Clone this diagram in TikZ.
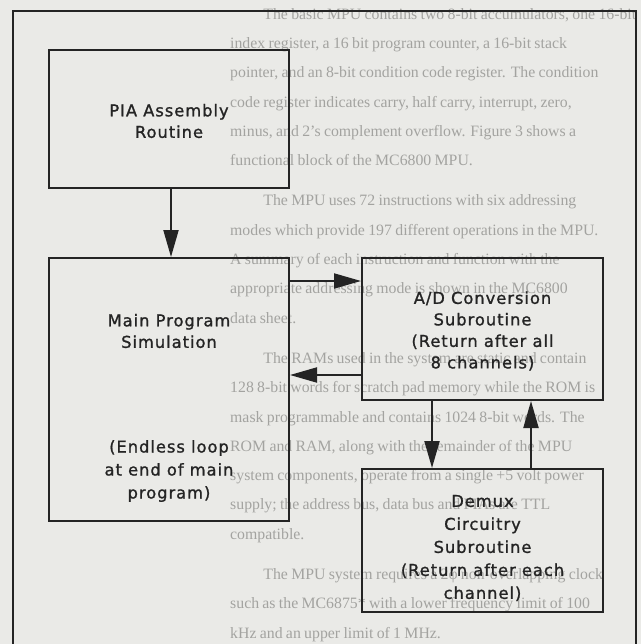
\documentclass[tikz,border=0pt]{standalone}
\usepackage{fontspec}
\setmainfont{Liberation Serif}
\newfontfamily\boxfont{DejaVu Sans}[LetterSpace=6, FakeBold=1.2]
\usetikzlibrary{arrows.meta,calc}
\definecolor{paper}{RGB}{234,234,231}
\definecolor{ink}{RGB}{36,36,36}
\definecolor{ghost}{RGB}{163,163,160}
\newcommand\bgfull[1]{\makebox[404pt][s]{#1}\par}
\newcommand\bglast[1]{#1\par}
\newcommand\ghosttext{%
\fontsize{15.8}{29.3}\selectfont\parindent=0pt\parskip=0pt
\bgfull{\hspace*{2.1em}The basic MPU contains two 8-bit accumulators, one 16-bit}
\bgfull{index register, a 16 bit program counter, a 16-bit stack}
\bgfull{pointer, and an 8-bit condition code register. The condition}
\bgfull{code register indicates carry, half carry, interrupt, zero,}
\bgfull{minus, and 2's complement overflow. Figure 3 shows a}
\bglast{functional block of the MC6800 MPU.}
\vspace{11pt}
\bgfull{\hspace*{2.1em}The MPU uses 72 instructions with six addressing}
\bgfull{modes which provide 197 different operations in the MPU.}
\bgfull{A summary of each instruction and function with the}
\bgfull{appropriate addressing mode is shown in the MC6800}
\bglast{data sheet.}
\vspace{11pt}
\bgfull{\hspace*{2.1em}The RAMs used in the system are static and contain}
\bgfull{128 8-bit words for scratch pad memory while the ROM is}
\bgfull{mask programmable and contains 1024 8-bit words. The}
\bgfull{ROM and RAM, along with the remainder of the MPU}
\bgfull{system components, operate from a single +5 volt power}
\bgfull{supply; the address bus, data bus and PIAs are TTL}
\bglast{compatible.}
\vspace{11pt}
\bgfull{\hspace*{2.1em}The MPU system requires a 2φ non-overlapping clock}
\bgfull{such as the MC6875* with a lower frequency limit of 100}
\bglast{kHz and an upper limit of 1 MHz.}}
\tikzset{
  box/.style={draw=ink, line width=2pt, inner sep=0pt, rectangle},
  lbl/.style={text=ink, align=center, inner sep=0pt,
    font={\boxfont\fontsize{16.3}{21.5}\selectfont}},
  lblwide/.style={lbl, font={\boxfont\fontsize{16.3}{23}\selectfont}},
  arr/.style={draw=ink, line width=2pt, -{Triangle[length=27pt,width=15pt]}},
  ghostnode/.style={text=ghost, inner sep=0pt, text width=404pt, align=left, anchor=north west},
}
\begin{document}
\begin{tikzpicture}[x=1pt,y=-1pt]
\useasboundingbox (0,0) rectangle (641,644);
\fill[paper] (0,0) rectangle (641,644);
\clip (0,0) rectangle (641,644);
% faint text showing through the page
\node[ghostnode] (bg) at (230,8) {\ghosttext};
% outer frame
\coordinate (fbl) at (12.5,660);
\coordinate (ftl) at (12.5,11);
\coordinate (ftr) at (636,11);
\coordinate (fbr) at (636,660);
\draw[ink, line width=2pt] (fbl) -- (ftl) -- (ftr) -- (fbr);
% boxes
\node[box, minimum width=240pt, minimum height=138pt] (pia) at (169,119) {};
\node[box, minimum width=240pt, minimum height=263pt] (main) at (169,389.5) {};
\node[box, minimum width=241pt, minimum height=142pt] (ad) at (482.5,329) {};
\node[box, minimum width=241pt, minimum height=143pt] (demux) at (482.5,540.5) {};
% labels
\node[lbl] (piaT) at (169,121) {PIA Assembly\\Routine};
\node[lbl] (mainT) at (169,331) {Main Program\\Simulation};
\node[lblwide] (mainB) at (169,471) {(Endless loop\\at end of main\\program)};
\node[lbl] (adT) at (482.5,331) {A/D Conversion\\Subroutine\\(Return after all\\8 channels)};
\node[lblwide] (demuxT) at (482.5,548) {Demux\\Circuitry\\Subroutine\\(Return after each\\channel)};
% connectors
\draw[arr] ($(pia.south)+(2,0)$) -- ($(main.north)+(2,0)$);
\draw[arr] ($(main.north east)+(0,24)$) -- ($(ad.north west)+(0,24)$);
\draw[arr] ($(ad.north west)+(0,118)$) -- ($(main.north east)+(0,118)$);
\draw[arr] ($(ad.south west)+(71,0)$) -- ($(demux.north west)+(71,0)$);
\draw[arr] ($(demux.north west)+(170,0)$) -- ($(ad.south west)+(170,0)$);
\end{tikzpicture}
\end{document}
